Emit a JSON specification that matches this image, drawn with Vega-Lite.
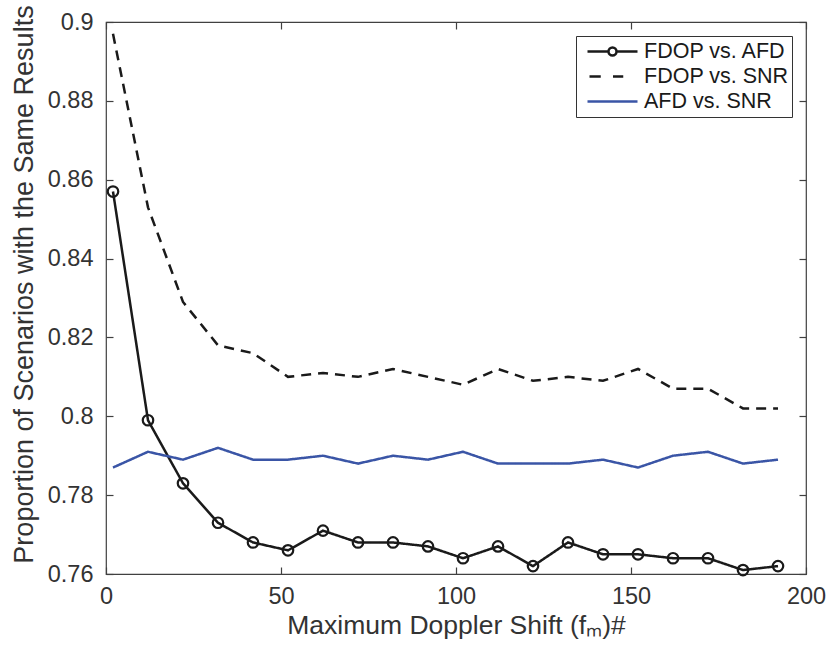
{
  "$schema": "https://vega.github.io/schema/vega-lite/v6.json",
  "autosize": "none",
  "width": 700,
  "height": 552,
  "padding": {"left": 106, "top": 22, "right": 25, "bottom": 76},
  "background": "white",
  "config": {
    "font": "Liberation Sans",
    "view": {"stroke": "#404040", "strokeWidth": 1.2},
    "axis": {
      "grid": false,
      "domain": false,
      "tickColor": "#404040",
      "tickWidth": 1.2,
      "tickSize": -7,
      "labelFont": "Liberation Sans",
      "labelFontSize": 23.5,
      "labelColor": "#333333",
      "labelFlush": false,
      "titleFont": "Liberation Sans",
      "titleFontSize": 26.5,
      "titleFontWeight": "normal",
      "titleColor": "#333333"
    }
  },
  "resolve": {"axis": {"x": "independent", "y": "independent"}},
  "data": {
    "values": [
      {"fm": 2, "series": "FDOP vs. AFD", "value": 0.857},
      {"fm": 12, "series": "FDOP vs. AFD", "value": 0.799},
      {"fm": 22, "series": "FDOP vs. AFD", "value": 0.783},
      {"fm": 32, "series": "FDOP vs. AFD", "value": 0.773},
      {"fm": 42, "series": "FDOP vs. AFD", "value": 0.768},
      {"fm": 52, "series": "FDOP vs. AFD", "value": 0.766},
      {"fm": 62, "series": "FDOP vs. AFD", "value": 0.771},
      {"fm": 72, "series": "FDOP vs. AFD", "value": 0.768},
      {"fm": 82, "series": "FDOP vs. AFD", "value": 0.768},
      {"fm": 92, "series": "FDOP vs. AFD", "value": 0.767},
      {"fm": 102, "series": "FDOP vs. AFD", "value": 0.764},
      {"fm": 112, "series": "FDOP vs. AFD", "value": 0.767},
      {"fm": 122, "series": "FDOP vs. AFD", "value": 0.762},
      {"fm": 132, "series": "FDOP vs. AFD", "value": 0.768},
      {"fm": 142, "series": "FDOP vs. AFD", "value": 0.765},
      {"fm": 152, "series": "FDOP vs. AFD", "value": 0.765},
      {"fm": 162, "series": "FDOP vs. AFD", "value": 0.764},
      {"fm": 172, "series": "FDOP vs. AFD", "value": 0.764},
      {"fm": 182, "series": "FDOP vs. AFD", "value": 0.761},
      {"fm": 192, "series": "FDOP vs. AFD", "value": 0.762},
      {"fm": 2, "series": "FDOP vs. SNR", "value": 0.897},
      {"fm": 12, "series": "FDOP vs. SNR", "value": 0.853},
      {"fm": 22, "series": "FDOP vs. SNR", "value": 0.829},
      {"fm": 32, "series": "FDOP vs. SNR", "value": 0.818},
      {"fm": 42, "series": "FDOP vs. SNR", "value": 0.816},
      {"fm": 52, "series": "FDOP vs. SNR", "value": 0.810},
      {"fm": 62, "series": "FDOP vs. SNR", "value": 0.811},
      {"fm": 72, "series": "FDOP vs. SNR", "value": 0.810},
      {"fm": 82, "series": "FDOP vs. SNR", "value": 0.812},
      {"fm": 92, "series": "FDOP vs. SNR", "value": 0.810},
      {"fm": 102, "series": "FDOP vs. SNR", "value": 0.808},
      {"fm": 112, "series": "FDOP vs. SNR", "value": 0.812},
      {"fm": 122, "series": "FDOP vs. SNR", "value": 0.809},
      {"fm": 132, "series": "FDOP vs. SNR", "value": 0.810},
      {"fm": 142, "series": "FDOP vs. SNR", "value": 0.809},
      {"fm": 152, "series": "FDOP vs. SNR", "value": 0.812},
      {"fm": 162, "series": "FDOP vs. SNR", "value": 0.807},
      {"fm": 172, "series": "FDOP vs. SNR", "value": 0.807},
      {"fm": 182, "series": "FDOP vs. SNR", "value": 0.802},
      {"fm": 192, "series": "FDOP vs. SNR", "value": 0.802},
      {"fm": 2, "series": "AFD vs. SNR", "value": 0.787},
      {"fm": 12, "series": "AFD vs. SNR", "value": 0.791},
      {"fm": 22, "series": "AFD vs. SNR", "value": 0.789},
      {"fm": 32, "series": "AFD vs. SNR", "value": 0.792},
      {"fm": 42, "series": "AFD vs. SNR", "value": 0.789},
      {"fm": 52, "series": "AFD vs. SNR", "value": 0.789},
      {"fm": 62, "series": "AFD vs. SNR", "value": 0.790},
      {"fm": 72, "series": "AFD vs. SNR", "value": 0.788},
      {"fm": 82, "series": "AFD vs. SNR", "value": 0.790},
      {"fm": 92, "series": "AFD vs. SNR", "value": 0.789},
      {"fm": 102, "series": "AFD vs. SNR", "value": 0.791},
      {"fm": 112, "series": "AFD vs. SNR", "value": 0.788},
      {"fm": 122, "series": "AFD vs. SNR", "value": 0.788},
      {"fm": 132, "series": "AFD vs. SNR", "value": 0.788},
      {"fm": 142, "series": "AFD vs. SNR", "value": 0.789},
      {"fm": 152, "series": "AFD vs. SNR", "value": 0.787},
      {"fm": 162, "series": "AFD vs. SNR", "value": 0.790},
      {"fm": 172, "series": "AFD vs. SNR", "value": 0.791},
      {"fm": 182, "series": "AFD vs. SNR", "value": 0.788},
      {"fm": 192, "series": "AFD vs. SNR", "value": 0.789}
    ]
  },
  "layer": [
    {
      "transform": [{"filter": "datum.fm < 0"}],
      "mark": {"type": "point", "filled": false, "strokeWidth": 2.5},
      "encoding": {
        "x": {"field": "fm", "type": "quantitative", "axis": null, "scale": {"domain": [0, 200], "nice": false, "padding": 0}},
        "y": {"field": "value", "type": "quantitative", "axis": null, "scale": {"domain": [0.76, 0.9], "nice": false, "zero": false, "padding": 0}},
        "color": {
          "field": "series", "type": "nominal",
          "scale": {"domain": ["FDOP vs. AFD", "FDOP vs. SNR", "AFD vs. SNR"], "range": ["#1a1a1a", "#1a1a1a", "#3a55a6"]},
          "legend": {
            "title": null, "orient": "top-right", "offset": 14,
            "symbolSize": 2500, "clipHeight": 25, "rowPadding": 0,
            "symbolStrokeWidth": 2.5, "symbolOffset": 7, "labelFontSize": 21.5, "labelColor": "#1a1a1a", "labelFont": "Liberation Sans",
            "labelOffset": 5, "padding": 3, "strokeColor": "#333333", "fillColor": "white",
            "symbolOpacity": 1, "symbolFillColor": "transparent"
          }
        },
        "shape": {
          "field": "series", "type": "nominal",
          "scale": {"domain": ["FDOP vs. AFD", "FDOP vs. SNR", "AFD vs. SNR"], "range": ["M-1,0H-0.16M0.16,0H1M-0.16,0A0.16,0.16,0,1,0,0.16,0A0.16,0.16,0,1,0,-0.16,0", "M-0.92,0H-0.47M0.02,0H0.43", "M-1,0H1"]},
          "legend": {
            "title": null, "orient": "top-right", "offset": 14,
            "symbolSize": 2500, "clipHeight": 25, "rowPadding": 0,
            "symbolStrokeWidth": 2.5, "symbolOffset": 7, "labelFontSize": 21.5, "labelColor": "#1a1a1a", "labelFont": "Liberation Sans",
            "labelOffset": 5, "padding": 3, "strokeColor": "#333333", "fillColor": "white",
            "symbolOpacity": 1, "symbolFillColor": "transparent"
          }
        }
      }
    },
    {
      "mark": {"type": "line", "strokeWidth": 2.5, "clip": true},
      "encoding": {
        "x": {
          "field": "fm", "type": "quantitative",
          "scale": {"domain": [0, 200], "nice": false, "padding": 0},
          "axis": {"orient": "bottom", "values": [0, 50, 100, 150, 200], "labelPadding": 17, "title": "Maximum Doppler Shift (fₘ)#", "titlePadding": 5}
        },
        "y": {
          "field": "value", "type": "quantitative",
          "scale": {"domain": [0.76, 0.9], "nice": false, "zero": false, "padding": 0},
          "axis": {"orient": "left", "values": [0.76, 0.78, 0.8, 0.82, 0.84, 0.86, 0.88, 0.9], "format": ".2~f", "labelPadding": 20, "title": "Proportion of Scenarios with the Same Results", "titlePadding": 9, "titleFontSize": 27, "titleY": 262}
        },
        "color": {"field": "series", "type": "nominal", "legend": null},
        "strokeDash": {
          "field": "series", "type": "nominal", "legend": null,
          "scale": {"domain": ["AFD vs. SNR", "FDOP vs. AFD", "FDOP vs. SNR"], "range": [[1, 0], [1, 0], [10, 7]]}
        }
      }
    },
    {
      "transform": [{"filter": "datum.series == 'FDOP vs. AFD'"}],
      "mark": {"type": "point", "shape": "circle", "filled": false, "size": 110, "strokeWidth": 2.2, "opacity": 1},
      "encoding": {
        "x": {
          "field": "fm", "type": "quantitative",
          "axis": {"orient": "top", "values": [0, 50, 100, 150, 200], "labels": false, "title": null}
        },
        "y": {
          "field": "value", "type": "quantitative",
          "axis": {"orient": "right", "values": [0.76, 0.78, 0.8, 0.82, 0.84, 0.86, 0.88, 0.9], "labels": false, "title": null}
        },
        "color": {"field": "series", "type": "nominal", "legend": null}
      }
    }
  ]
}
